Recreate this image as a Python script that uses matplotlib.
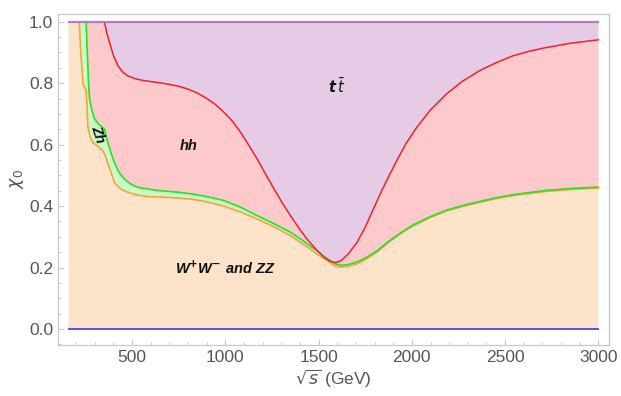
import numpy as np
import matplotlib
matplotlib.use("Agg")
import matplotlib.pyplot as plt
from matplotlib.ticker import MultipleLocator

plt.rcParams["font.family"] = ["Liberation Sans", "DejaVu Sans"]

# sqrt(s) samples (GeV) and chi_0 boundaries of each channel region
ww_x = [160, 217, 225, 237, 247, 254, 258, 263, 275, 290, 315, 343, 355, 370, 390,
        405, 440, 477, 530, 584, 700, 815, 900, 993, 1080, 1171, 1260, 1349, 1420,
        1492, 1550, 1590, 1620, 1660, 1706, 1760, 1812, 1884, 1950, 2008, 2100,
        2186, 2280, 2364, 2450, 2542, 2630, 2721, 2850, 3000]
ww_y = [1.000, 1.000, 0.900, 0.800, 0.785, 0.776, 0.730, 0.660, 0.625, 0.607, 0.595,
        0.580, 0.566, 0.540, 0.505, 0.477, 0.455, 0.445, 0.436, 0.431, 0.428, 0.423,
        0.414, 0.400, 0.381, 0.358, 0.333, 0.304, 0.276, 0.244, 0.220, 0.205,
        0.201, 0.204, 0.212, 0.229, 0.250, 0.286, 0.314, 0.336, 0.363,
        0.384, 0.400, 0.412, 0.424, 0.434, 0.441, 0.448, 0.454, 0.459]

zh_x = [254, 258, 263, 267, 272, 285, 299, 325, 352, 360, 370, 388, 405, 430, 459,
        495, 530, 600, 655, 750, 815, 900, 993, 1080, 1171, 1260, 1349, 1420,
        1492, 1550, 1590, 1620, 1660, 1706, 1760, 1812, 1884, 1950, 2008, 2100,
        2186, 2280, 2364, 2450, 2542, 2630, 2721, 2850, 3000]
zh_y = [1.000, 0.930, 0.857, 0.800, 0.749, 0.712, 0.684, 0.664, 0.651, 0.630, 0.607,
        0.572, 0.542, 0.510, 0.488, 0.471, 0.461, 0.454, 0.450, 0.445, 0.440, 0.431,
        0.418, 0.397, 0.369, 0.343, 0.315, 0.286, 0.254, 0.227, 0.212, 0.207,
        0.210, 0.218, 0.234, 0.254, 0.289, 0.317, 0.339, 0.366,
        0.387, 0.403, 0.415, 0.427, 0.437, 0.444, 0.451, 0.457, 0.462]

hh_x = [352, 362, 379, 400, 424, 450, 477, 520, 566, 630, 691, 750, 798, 850, 904,
        950, 993, 1040, 1082, 1125, 1171, 1215, 1261, 1305, 1349, 1395, 1438, 1485,
        1528, 1560, 1590, 1620, 1660, 1706, 1750, 1794, 1840, 1884, 1919, 1970,
        2026, 2100, 2186, 2270, 2364, 2450, 2542, 2630, 2721, 2850, 3000]
hh_y = [1.000, 0.970, 0.933, 0.890, 0.857, 0.836, 0.824, 0.814, 0.808, 0.803, 0.797,
        0.790, 0.781, 0.768, 0.749, 0.729, 0.705, 0.675, 0.640, 0.599, 0.553, 0.505,
        0.456, 0.411, 0.369, 0.328, 0.293, 0.260, 0.234, 0.221, 0.216, 0.222,
        0.245, 0.282, 0.331, 0.391, 0.452, 0.506, 0.548, 0.605,
        0.656, 0.713, 0.765, 0.806, 0.841, 0.866, 0.889, 0.904, 0.916, 0.930, 0.941]

x_min, x_max = 160, 3000
x_ticks = [500, 1000, 1500, 2000, 2500, 3000]
y_ticks = [0.0, 0.2, 0.4, 0.6, 0.8, 1.0]

fig = plt.figure(figsize=(6.21, 3.96), dpi=100)
ax = fig.add_axes([0.0934, 0.1288, 0.8873, 0.8358])

ww_x_a, ww_y_a = np.array(ww_x, float), np.array(ww_y, float)
zh_x_a, zh_y_a = np.array(zh_x, float), np.array(zh_y, float)
hh_x_a, hh_y_a = np.array(hh_x, float), np.array(hh_y, float)


def band(lx, ly, ux, uy):
    """Polygon between a lower and an upper boundary."""
    xs = np.concatenate([lx, ux[::-1]])
    ys = np.concatenate([ly, uy[::-1]])
    return xs, ys


# region fills, bottom to top
peach, mint, pink, lav = "#fde3c9", "#c9f9c6", "#fdc9ca", "#e5cbe6"
ax.fill(*band(np.array([x_min, x_max]), np.array([0.0, 0.0]), ww_x_a, ww_y_a),
        color=peach, lw=0)
ax.fill(*band(ww_x_a, ww_y_a, zh_x_a, zh_y_a), color=mint, lw=0)
ax.fill(*band(np.concatenate([[x_min], zh_x_a]), np.concatenate([[1.0], zh_y_a]),
              hh_x_a, hh_y_a), color=pink, lw=0)
ax.fill(*band(np.concatenate([[x_min], ww_x_a]), np.concatenate([[1.0], ww_y_a]),
              np.array([x_min, x_max]), np.array([1.0, 1.0])), color=peach, lw=0, zorder=0)
ax.fill(*band(hh_x_a, hh_y_a, np.array([hh_x_a[0], x_max]), np.array([1.0, 1.0])),
        color=lav, lw=0)

# boundary lines
ax.plot(ww_x_a[1:], ww_y_a[1:], color="#f6a33a", lw=1.2, zorder=3)
ax.plot(zh_x_a, zh_y_a, color="#27e227", lw=1.2, zorder=4)
ax.plot(hh_x_a, hh_y_a, color="#ee2230", lw=1.1, zorder=5)
ax.plot([x_min, x_max], [1.0, 1.0], color="#b77ac2", lw=1.6, zorder=6)
ax.plot([x_min, x_max], [0.0, 0.0], color="#5b4fe6", lw=1.4, zorder=6)

# channel labels
lab = dict(fontsize=10.5, fontweight="bold", fontstyle="italic", color="#111111",
           ha="center", va="center", zorder=7)
ax.text(1600, 0.79, r"$\boldsymbol{t\,\bar{t}}$", **lab)
ax.text(805, 0.597, "hh", **lab)
ax.text(318, 0.635, "Zh", rotation=-72, **lab)
ax.text(1000, 0.197, r"W$^{\mathbf{+}}$W$^{\mathbf{-}}$ and ZZ", **lab)

ax.set_xlim(103, 3057)
ax.set_ylim(-0.052, 1.025)
ax.set_xticks(x_ticks)
ax.set_yticks(y_ticks)
ax.set_yticklabels([f"{v:.1f}" for v in y_ticks])
ax.xaxis.set_minor_locator(MultipleLocator(100))
ax.yaxis.set_minor_locator(MultipleLocator(0.05))

frame_c = "#c8c8c8"
text_c = "#555555"
for s in ax.spines.values():
    s.set_color(frame_c)
    s.set_linewidth(0.9)
ax.tick_params(which="both", direction="in", color=frame_c, labelcolor=text_c,
               labelsize=12.5, top=False, right=False)
ax.tick_params(which="major", length=4)
ax.tick_params(which="minor", length=2)

ax.set_xlabel(r"$\sqrt{s}$ (GeV)", fontsize=12.5, color=text_c, labelpad=2)
ax.set_ylabel(r"$\chi_0$", fontsize=12.5, color=text_c, labelpad=2)

fig.savefig("out.png", dpi=100)
